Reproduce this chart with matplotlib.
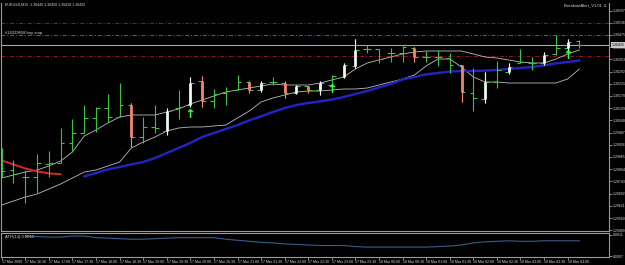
"""EURUSD M15 terminal screenshot (17-18 Mar 2009) redrawn with matplotlib -> out.png"""
import numpy as np
import matplotlib
matplotlib.use('Agg')
import matplotlib.pyplot as plt
import matplotlib.transforms as mtransforms
from matplotlib import font_manager

# ---- data ----
symbol = 'EURUSD,M15'
indicator_name = 'BreakoutAlert_V1.01 \u263a'
order_label = '#14329658 buy stop'

opens = [1.29790, 1.29800, 1.29765, 1.29765, 1.29830, 1.29835, 1.29935, 1.29985, 1.30060, 1.30110,
         1.30065, 1.30125, 1.29965, 1.30015, 1.29995, 1.30110, 1.30125, 1.30245, 1.30145, 1.30185,
         1.30200, 1.30240, 1.30200, 1.30240, 1.30235, 1.30185, 1.30220, 1.30200, 1.30225, 1.30265,
         1.30320, 1.30405, 1.30405, 1.30385, 1.30385, 1.30410, 1.30365, 1.30365, 1.30360, 1.30325,
         1.30185, 1.30155, 1.30240, 1.30290, 1.30335, 1.30335, 1.30335, 1.30380, 1.30410, 1.30445]
highs = [1.29910, 1.29850, 1.29800, 1.29880, 1.29895, 1.30010, 1.30055, 1.30125, 1.30115, 1.30180,
         1.30235, 1.30135, 1.30065, 1.30125, 1.30110, 1.30200, 1.30265, 1.30270, 1.30205, 1.30215,
         1.30275, 1.30245, 1.30245, 1.30265, 1.30245, 1.30225, 1.30220, 1.30245, 1.30275, 1.30335,
         1.30455, 1.30425, 1.30405, 1.30410, 1.30420, 1.30415, 1.30395, 1.30400, 1.30385, 1.30325,
         1.30310, 1.30290, 1.30345, 1.30335, 1.30405, 1.30365, 1.30390, 1.30475, 1.30455, 1.30450]
lows = [1.29765, 1.29735, 1.29635, 1.29685, 1.29765, 1.29835, 1.29895, 1.29985, 1.29990, 1.30040,
        1.30065, 1.29915, 1.29935, 1.29985, 1.29975, 1.30055, 1.30115, 1.30115, 1.30110, 1.30125,
        1.30200, 1.30185, 1.30190, 1.30225, 1.30160, 1.30180, 1.30185, 1.30175, 1.30195, 1.30260,
        1.30310, 1.30385, 1.30335, 1.30340, 1.30340, 1.30340, 1.30340, 1.30320, 1.30285, 1.30140,
        1.30095, 1.30135, 1.30210, 1.30280, 1.30335, 1.30300, 1.30325, 1.30375, 1.30390, 1.30410]
closes = [1.29795, 1.29780, 1.29765, 1.29835, 1.29835, 1.29935, 1.29985, 1.30060, 1.30110, 1.30065,
          1.30125, 1.29965, 1.30015, 1.30010, 1.30095, 1.30115, 1.30235, 1.30145, 1.30180, 1.30195,
          1.30240, 1.30200, 1.30235, 1.30240, 1.30185, 1.30220, 1.30200, 1.30235, 1.30270, 1.30325,
          1.30400, 1.30405, 1.30355, 1.30385, 1.30415, 1.30365, 1.30365, 1.30365, 1.30325, 1.30190,
          1.30160, 1.30240, 1.30300, 1.30315, 1.30340, 1.30335, 1.30375, 1.30410, 1.30440, 1.30425]

# bars painted over by the indicator
salmon_bars = [11, 17, 21, 24, 26, 35, 39]
white_bars = [14, 16, 22, 25, 27, 29, 30, 41, 43, 46, 48]
arrow_bars = [16, 28, 48]
arrow_prices = [1.30085, 1.30210, 1.30380]

nan = float('nan')
ma_upper = [1.29760, 1.29775, 1.29790, 1.29800, 1.29820, 1.29845, 1.29890, 1.29970, 1.30000, 1.30035,
            1.30065, 1.30075, 1.30075, 1.30075, 1.30090, 1.30105, 1.30130, 1.30150, 1.30170, 1.30190,
            1.30200, 1.30210, 1.30220, 1.30230, 1.30225, 1.30225, 1.30225, 1.30235, 1.30250, 1.30265,
            1.30305, 1.30335, 1.30350, 1.30365, 1.30380, 1.30390, 1.30395, 1.30395, 1.30395, 1.30395,
            1.30380, 1.30365, 1.30360, 1.30350, 1.30340, 1.30335, 1.30335, 1.30355, 1.30380, 1.30400]
ma_lower = [1.29625, 1.29645, 1.29665, 1.29680, 1.29705, 1.29730, 1.29760, 1.29790, 1.29800, 1.29820,
            1.29840, 1.29910, 1.29940, 1.29965, 1.29995, 1.30010, 1.30015, 1.30015, 1.30020, 1.30025,
            1.30060, 1.30095, 1.30140, 1.30160, 1.30175, 1.30190, 1.30195, 1.30195, 1.30200, 1.30205,
            1.30205, 1.30210, 1.30225, 1.30240, 1.30255, 1.30275, 1.30320, 1.30355, 1.30355, 1.30315,
            1.30265, 1.30240, 1.30240, 1.30235, 1.30235, 1.30235, 1.30235, 1.30235, 1.30255, 1.30305]
ma_blue = [nan] * 7 + [
            1.29768, 1.29785, 1.29803, 1.29815, 1.29828, 1.29840, 1.29860, 1.29885, 1.29910, 1.29935,
            1.29965, 1.29985, 1.30005, 1.30025, 1.30048, 1.30068, 1.30090, 1.30110, 1.30125, 1.30135,
            1.30143, 1.30152, 1.30165, 1.30180, 1.30195, 1.30213, 1.30230, 1.30253, 1.30265, 1.30278,
            1.30285, 1.30292, 1.30295, 1.30295, 1.30297, 1.30300, 1.30305, 1.30310, 1.30315, 1.30323,
            1.30333, 1.30340, 1.30348]
ma_red = [1.29848, 1.29828, 1.29808, 1.29793, 1.29783, 1.29779]

atr = [nan, nan,
       0.00108, 0.00107, 0.00106, 0.00106, 0.00108, 0.00108, 0.00105, 0.00104, 0.00103, 0.00102,
       0.00102, 0.00103, 0.00104, 0.00105, 0.00105, 0.00105, 0.00105, 0.00102, 0.00100, 0.00098,
       0.00096, 0.00095, 0.00093, 0.00092, 0.00091, 0.00090, 0.00090, 0.00090, 0.00088, 0.00087,
       0.00087, 0.00087, 0.00087, 0.00087, 0.00087, 0.00088, 0.00089, 0.00091, 0.00095, 0.00097,
       0.00098, 0.00099, 0.00098, 0.00098, 0.00099, 0.00099, 0.00099, 0.00099]

# horizontal order lines
sl_tp_prices = [1.30537, 1.30370]
buy_stop_price = 1.30475
bid = closes[-1]

price_ticks = [1.30597, 1.30536, 1.30475, 1.30414, 1.30353, 1.30292, 1.30231, 1.30170, 1.30109,
               1.30048, 1.29987, 1.29926, 1.29865, 1.29804, 1.29743, 1.29682, 1.29621, 1.29560,
               1.29499]
atr_ticks = [0.0011, 0.0007]

time_labels = ['17 Mar 2009', '17 Mar 16:30', '17 Mar 17:00', '17 Mar 17:30', '17 Mar 18:00',
               '17 Mar 18:30', '17 Mar 19:00', '17 Mar 19:30', '17 Mar 20:00', '17 Mar 20:30',
               '17 Mar 21:00', '17 Mar 21:30', '17 Mar 22:00', '17 Mar 22:30', '17 Mar 23:00',
               '17 Mar 23:30', '18 Mar 00:00', '18 Mar 00:30', '18 Mar 01:00', '18 Mar 01:30',
               '18 Mar 02:00', '18 Mar 02:30', '18 Mar 03:00', '18 Mar 03:30', '18 Mar 04:00']
label_bars = list(range(0, 50, 2))

# ---- style ----
BAR_GREEN = '#3cc43c'
SALMON = '#f4846e'
WHITE = '#eef6f6'
FRAME = '#9a9a9a'
TXT = '#d8d8d8'

names = {f.name for f in font_manager.fontManager.ttflist}
FONT = 'Liberation Sans Narrow' if 'Liberation Sans Narrow' in names else 'Liberation Sans'
plt.rcParams['font.family'] = [FONT, 'DejaVu Sans']

W, H = 625, 265
fig = plt.figure(figsize=(W / 100, H / 100), dpi=100, facecolor='black')


def px_axes(x0, y0, x1, y1):
    return fig.add_axes([x0 / W, 1 - y1 / H, (x1 - x0) / W, (y1 - y0) / H], facecolor='black')


ax = px_axes(1, 3, 609, 231)
ax2 = px_axes(1, 233, 609, 257)
XLIM = (-0.06, 51.51)

for a in (ax, ax2):
    a.set_xlim(*XLIM)
    for s in a.spines.values():
        s.set_color(FRAME)
        s.set_linewidth(0.8)
    a.yaxis.tick_right()
ax.spines['top'].set_visible(False)

# ---- price panel ----
idx = np.arange(len(opens))
o, h, l, c = map(np.asarray, (opens, highs, lows, closes))

for p in sl_tp_prices:
    ax.axhline(p, color='#8c1c1c', lw=0.7, ls=(0, (4, 2, 1, 2)))
ax.axhline(buy_stop_price, color='#3a7a3a', lw=0.7, ls=(0, (4, 2, 1, 2)))
ax.axhline(bid, color='#a8a8a8', lw=0.8)

ax.plot(idx, ma_upper, color='#bdbdbd', lw=0.6)
ax.plot(idx, ma_lower, color='#bdbdbd', lw=0.6)
ax.plot(idx, ma_blue, color='#2424c4', lw=1.7, solid_capstyle='round')
ax.plot(idx[:len(ma_red)], ma_red, color='#d42a2a', lw=1.4, solid_capstyle='round')

ax.vlines(idx, l, h, color=BAR_GREEN, lw=0.8)
ax.hlines(o, idx - 0.32, idx, color=BAR_GREEN, lw=0.8)
ax.hlines(c, idx, idx + 0.32, color=BAR_GREEN, lw=0.8)

for bars, col in ((salmon_bars, SALMON), (white_bars, WHITE)):
    b = np.asarray(bars)
    ax.vlines(b, l[b], h[b], color=col, lw=0.8)
    ax.vlines(b, np.minimum(o[b], c[b]), np.maximum(o[b], c[b]), color=col, lw=2.0)

ax.plot(arrow_bars, arrow_prices, ls='none', marker=r'$\uparrow$', ms=6,
        color='#3cff3c', mew=0.4)

ax.set_ylim(1.29495, 1.30635)
ax.set_yticks(price_ticks, [f'{v:.5f}' for v in price_ticks])
ax.tick_params(axis='y', length=2, width=0.6, color=FRAME, labelcolor=TXT,
               labelsize=2.5, pad=0.8)
ax.tick_params(axis='x', bottom=False, labelbottom=False)

trans = mtransforms.blended_transform_factory(ax.transAxes, ax.transData)
ax.text(1 + 2.5 / 608, bid, f'{bid:.5f}', transform=trans, ha='left', va='center',
        fontsize=2.5, color='black', clip_on=False, zorder=5,
        bbox=dict(facecolor='#c8c8c8', edgecolor='none', pad=0.4))
ax.text(4 / 608, buy_stop_price, order_label, transform=trans, ha='left', va='bottom',
        fontsize=3.0, color=TXT)

fig.text(5 / W, 1 - 5 / H,
         f'{symbol}  {opens[-1]:.5f} {highs[-1]:.5f} {lows[-1]:.5f} {closes[-1]:.5f}',
         ha='left', va='center', fontsize=2.6, color=TXT)
fig.text(607 / W, 1 - 5 / H, indicator_name, ha='right', va='center', fontsize=3.0, color=TXT)

# ---- ATR panel ----
ax2.plot(idx, atr, color='#3a5c86', lw=0.8)
ax2.set_ylim(0.000682, 0.001138)
ax2.set_yticks(atr_ticks, [f'{v:.4f}' for v in atr_ticks])
ax2.tick_params(axis='y', length=2, width=0.6, color=FRAME, labelcolor=TXT,
                labelsize=2.5, pad=0.8)
ax2.text(4 / 608, 0.82, f'ATR(14) {atr[-1]:.4f}', transform=ax2.transAxes,
         ha='left', va='center', fontsize=3.0, color=TXT)

ax2.set_xticks(label_bars, time_labels)
for lbl in ax2.get_xticklabels():
    lbl.set_ha('left')
ax2.tick_params(axis='x', length=2, width=0.6, color=FRAME, labelcolor=TXT,
                labelsize=2.55, pad=0.5)

fig.savefig('out.png', dpi=100, facecolor='black')
